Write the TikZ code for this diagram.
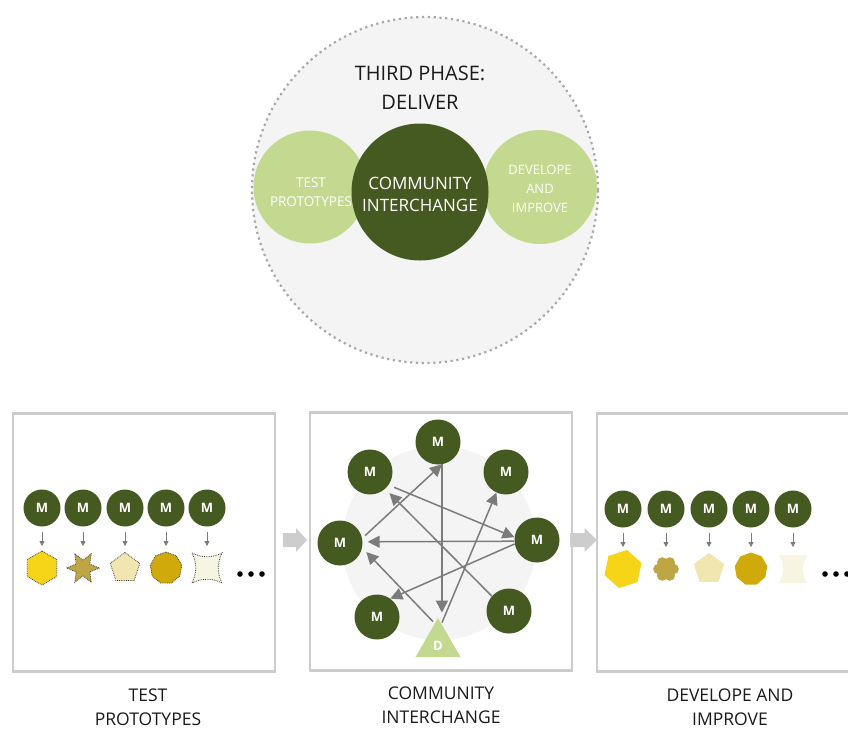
\documentclass[tikz,border=0pt]{standalone}
\usepackage{fontspec}
\setmainfont{Open Sans}
\usetikzlibrary{shapes.geometric,arrows.meta,calc}
\definecolor{dkgreen}{HTML}{455A20}
\definecolor{ltgreen}{HTML}{C3D98F}
\definecolor{bggray}{HTML}{F4F4F4}
\definecolor{dotgray}{HTML}{A8A8A8}
\definecolor{panelgray}{HTML}{CCCCCC}
\definecolor{arrgray}{HTML}{7B7B7B}
\definecolor{blockgray}{HTML}{CDCDCD}
\definecolor{txt}{HTML}{1A1A1A}
\definecolor{cyel}{HTML}{F6D417}
\definecolor{colive}{HTML}{BFA645}
\definecolor{cpale}{HTML}{F2E6B0}
\definecolor{cgold}{HTML}{CFAA0A}
\definecolor{ccream}{HTML}{F8F4E2}
\tikzset{
  panel/.style={draw=panelgray, line width=2.5pt, fill=white, minimum width=262pt, minimum height=258pt, inner sep=0pt},
  msmall/.style={circle, fill=dkgreen, minimum size=37pt, inner sep=0pt, text=white, font=\fontsize{13}{14}\selectfont\bfseries},
  mbig/.style={circle, fill=dkgreen, minimum size=45pt, inner sep=0pt, text=white, font=\fontsize{13}{14}\selectfont\bfseries},
  dotshape/.style={draw=black!75, densely dotted, line width=0.8pt, inner sep=0pt},
  plainshape/.style={inner sep=0pt},
  smallarr/.style={draw=arrgray, line width=0.8pt, -{Triangle[width=5pt,length=5pt]}},
  netarr/.style={draw=arrgray, line width=1.5pt, -{Triangle[width=12pt,length=12pt]}},
  lbl/.style={text=txt, align=center, font=\fontsize{17.5}{24}\selectfont},
  concave/.pic={\path[pic actions] (-15,-15) .. controls (-5,-10) and (5,-10) .. (15,-15) .. controls (10,-5) and (10,5) .. (15,15) .. controls (5,10) and (-5,10) .. (-15,15) .. controls (-10,5) and (-10,-5) .. (-15,-15) -- cycle;},
  concavetwo/.pic={\path[pic actions] (-14.5,-14) -- (14.5,-14) .. controls (8,-5) and (8,5) .. (14.5,14) -- (-14.5,14) .. controls (-8,5) and (-8,-5) .. (-14.5,-14) -- cycle;},
  blockarrow/.pic={\fill[blockgray] (-12,-7) -- (1,-7) -- (1,-12) -- (12,0) -- (1,12) -- (1,7) -- (-12,7) -- cycle;}
}
\begin{document}
\begin{tikzpicture}[x=1pt,y=-1pt]
\useasboundingbox (0,0) rectangle (848,729);
% ---------- top diagram ----------
\node[circle, fill=bggray, draw=dotgray, line width=2.2pt, dash pattern=on 2.2pt off 3.6pt, minimum size=346pt, inner sep=0pt] (big) at (425,190) {};
\node[text=txt, align=center, font=\fontsize{20}{29}\selectfont] (title) at (420,88) {THIRD PHASE:\\DELIVER};
\node[circle, fill=ltgreen, minimum size=113pt, inner sep=0pt] (lc) at (310,187) {};
\node[circle, fill=ltgreen, minimum size=114pt, inner sep=0pt] (rc) at (540,187) {};
\node[circle, fill=dkgreen, minimum size=137pt, inner sep=0pt] (cc) at (420,192) {};
\node[text=white, align=center, font=\fontsize{13.5}{19}\selectfont] (lt) at (311,192.5) {TEST\\PROTOTYPES};
\node[text=white, align=center, font=\fontsize{17}{22}\selectfont] (ct) at (420,194) {COMMUNITY\\INTERCHANGE};
\node[text=white, align=center, font=\fontsize{13}{19}\selectfont] (rt) at (540,189) {DEVELOPE\\AND\\IMPROVE};
% ---------- panels ----------
\node[panel] (p1) at (144,542.5) {};
\node[panel] (p2) at (441,541.5) {};
\node[panel] (p3) at (728,542.5) {};
\pic at (295,540) {blockarrow};
\pic[xscale=1.12] at (583.5,540) {blockarrow};
% ---------- panel 1 ----------
\foreach \i/\x in {1/42,2/83,3/125,4/166,5/207}{
  \node[msmall] (pa\i) at (\x,508) {M};
  \coordinate (ta\i) at (\x,546);
  \draw[smallarr] ([yshift=-5pt]pa\i.south) -- (ta\i);
}
\node[dotshape, fill=cyel, regular polygon, regular polygon sides=6, shape border rotate=30, minimum size=34pt] (sa1) at (42,568) {};
\node[dotshape, fill=colive, star, star points=6, star point ratio=2.1, shape border rotate=30, minimum size=33pt] (sa2) at (83,568) {};
\node[dotshape, fill=cpale, regular polygon, regular polygon sides=5, minimum size=31pt] (sa3) at (125,568) {};
\node[dotshape, fill=cgold, regular polygon, regular polygon sides=9, minimum size=32pt] (sa4) at (166,568) {};
\pic[dotshape, fill=ccream] at (207,568) {concave};
\foreach \x in {240,251,262} \fill[black] (\x,574) circle (2.8pt);
% ---------- panel 2 ----------
\node[circle, fill=bggray, minimum size=194pt, inner sep=0pt] (ring) at (439,543) {};
\node[mbig] (T) at (438,442) {M};
\node[mbig] (UL) at (370,472) {M};
\node[mbig] (UR) at (506,472) {M};
\node[mbig] (L) at (340,543) {M};
\node[mbig] (R) at (537,540) {M};
\node[mbig] (LL) at (377,617) {M};
\node[mbig] (LR) at (509,611) {M};
\node[regular polygon, regular polygon sides=3, fill=ltgreen, minimum size=52pt, inner sep=0pt] (D) at (438,644) {};
\node[text=white, font=\fontsize{13}{14}\selectfont\bfseries] (Dt) at (438,646) {D};
\draw[netarr, shorten <=4pt] (L.12) -- (T.-80);
\draw[netarr, shorten >=5pt] (T.-80) -- (T.-80 |- D.north);
\draw[netarr] ([xshift=4pt,yshift=-5pt]D.north) -- (UR.-115);
\draw[netarr, shorten <=6pt] (UL.-35) -- (R.173);
\draw[netarr, shorten >=6pt] (LR.139) -- (UL.-48);
\draw[netarr, shorten >=5pt] (R.183) -- (L.3);
\draw[netarr] (R.190) -- (LL.54);
\draw[netarr, shorten >=6pt] ([xshift=-5pt,yshift=-4pt]D.north) -- (L.-12);
% ---------- panel 3 ----------
\foreach \i/\x in {1/623,2/666,3/709,4/751,5/793}{
  \node[msmall] (pc\i) at (\x,509) {M};
  \coordinate (tc\i) at (\x,547);
  \draw[smallarr] ([yshift=-5pt]pc\i.south) -- (tc\i);
}
\node[plainshape, fill=cyel, regular polygon, regular polygon sides=6, shape border rotate=18, minimum size=39pt] (sc1) at (623,569) {};
\coordinate (sc2) at (666,569);
\fill[colive] (sc2) circle (8.5pt);
\foreach \a in {0,60,...,300} \fill[colive] ($(sc2)+(\a:7.5)$) circle (5.3pt);
\node[plainshape, fill=cpale, regular polygon, regular polygon sides=5, minimum size=32pt] (sc3) at (709,569) {};
\node[plainshape, fill=cgold, regular polygon, regular polygon sides=9, minimum size=33pt] (sc4) at (751,569) {};
\pic[plainshape, fill=ccream] at (793,569) {concavetwo};
\foreach \x in {825,836,847} \fill[black] (\x,574) circle (2.8pt);
% ---------- labels ----------
\node[lbl] (l1) at (148,707.5) {TEST\\PROTOTYPES};
\node[lbl] (l2) at (441,705.5) {COMMUNITY\\INTERCHANGE};
\node[lbl] (l3) at (730,707) {DEVELOPE AND\\IMPROVE};
\end{tikzpicture}
\end{document}
